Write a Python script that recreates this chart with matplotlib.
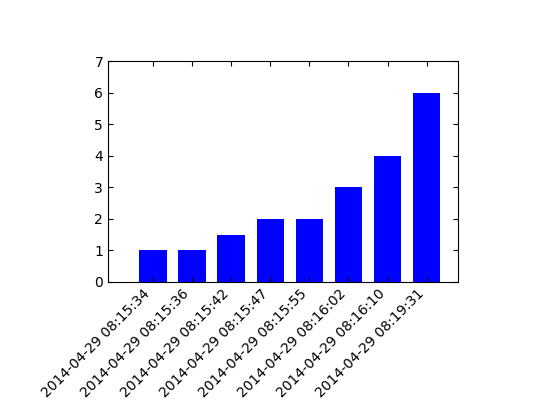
import matplotlib
matplotlib.use("Agg")
import matplotlib.pyplot as plt

labels = ["2014-04-29 08:15:34", "2014-04-29 08:15:36", "2014-04-29 08:15:42",
          "2014-04-29 08:15:47", "2014-04-29 08:15:55", "2014-04-29 08:16:02",
          "2014-04-29 08:16:10", "2014-04-29 08:19:31"]
values = [1, 1, 1.5, 2, 2, 3, 4, 6]

fig = plt.figure(figsize=(5.4, 4.05), dpi=100)
ax = fig.add_axes([0.2, 0.304, 0.648, 0.545])
x = list(range(len(values)))
ax.bar(x, values, width=0.7, color="blue")
ax.set_xlim(-1.15, 7.8)
ax.set_ylim(0, 7)
ax.set_xticks(x)
ax.set_xticklabels(labels, rotation=45, ha="right", rotation_mode="default")
ax.tick_params(direction="in", top=True, right=True, labelsize=10)
fig.savefig("out.png", dpi=100)
